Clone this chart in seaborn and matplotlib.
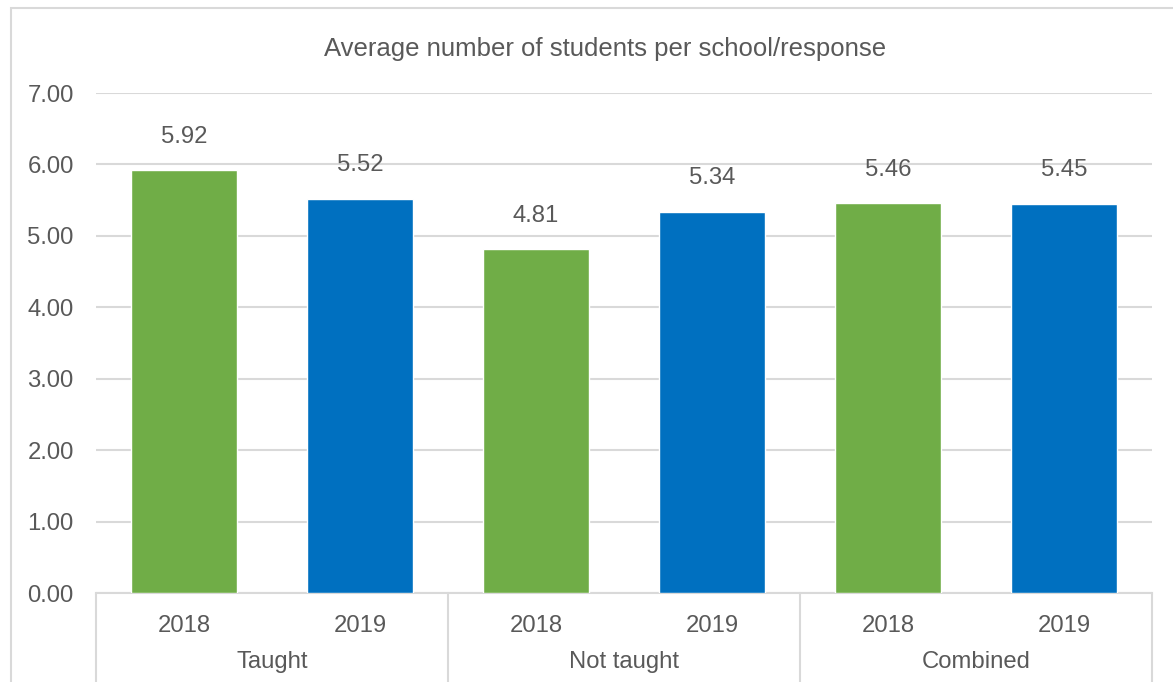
import matplotlib
matplotlib.use("Agg")
import matplotlib.pyplot as plt
import seaborn as sns
import pandas as pd
from matplotlib.patches import Rectangle
from matplotlib.transforms import blended_transform_factory

groups = ["Taught", "Taught", "Not taught", "Not taught", "Combined", "Combined"]
years = ["2018", "2019", "2018", "2019", "2018", "2019"]
values = [5.92, 5.52, 4.81, 5.34, 5.46, 5.45]
group_names = ["Taught", "Not taught", "Combined"]
title = "Average number of students per school/response"
yticks = [0, 1, 2, 3, 4, 5, 6, 7]

sns.set_theme(style="white")
plt.rcParams['font.family'] = ['Liberation Sans', 'DejaVu Sans']
TXT = "#595959"
GRID = "#D9D9D9"
FS = 17.2
TFS = 18.5

df = pd.DataFrame({"key": [f"{g} {y}" for g, y in zip(groups, years)],
                   "year": years, "value": values})

fig = plt.figure(figsize=(11.73, 6.82), dpi=100)
ax = fig.add_axes([96/1173, 1-593/682, (1152-96)/1173, 500/682])

sns.barplot(data=df, x="key", y="value", hue="year", dodge=False,
            palette={"2018": "#70AD47", "2019": "#0070C0"}, width=0.6,
            saturation=1, legend=False, ax=ax, zorder=3)

for c in ax.containers:
    ax.bar_label(c, fmt="%.2f", padding=16, fontsize=FS, color=TXT)

ax.set_ylim(0, 7)
ax.set_xlim(-0.5, 5.5)
ax.set_yticks(yticks)
ax.set_yticklabels([f"{v:.2f}" for v in yticks])
ax.set_xticks(range(6))
ax.set_xticklabels(years)
ax.tick_params(axis="both", length=0, labelsize=FS, labelcolor=TXT)
ax.tick_params(axis="y", pad=16)
ax.tick_params(axis="x", pad=15.5)
ax.set_xlabel("")
ax.set_ylabel("")
ax.yaxis.grid(True, color=GRID, linewidth=1.5, zorder=0)
ax.set_axisbelow(True)
for s in ["left", "right", "top"]:
    ax.spines[s].set_visible(False)
ax.spines["bottom"].set_color(GRID)
ax.spines["bottom"].set_linewidth(1.5)

tr = blended_transform_factory(ax.transData, ax.transAxes)
for xv in [-0.5, 1.5, 3.5, 5.5]:
    ax.plot([xv, xv], [0, -0.25], transform=tr, color=GRID, linewidth=1.5,
            clip_on=False, zorder=1)
for i, g in enumerate(group_names):
    ax.text(2*i + 0.5, -69/500, g, transform=tr, ha="center", va="center",
            fontsize=FS, color=TXT)

fig.text(605/1173, 1-49/682, title, ha="center", va="center", fontsize=TFS, color=TXT)

fig.patches.append(Rectangle((11/1173, -0.1), 1.2, 1.1 - 8/682, transform=fig.transFigure,
                             fill=False, edgecolor=GRID, linewidth=1.5))

fig.savefig("out.png", dpi=100)
